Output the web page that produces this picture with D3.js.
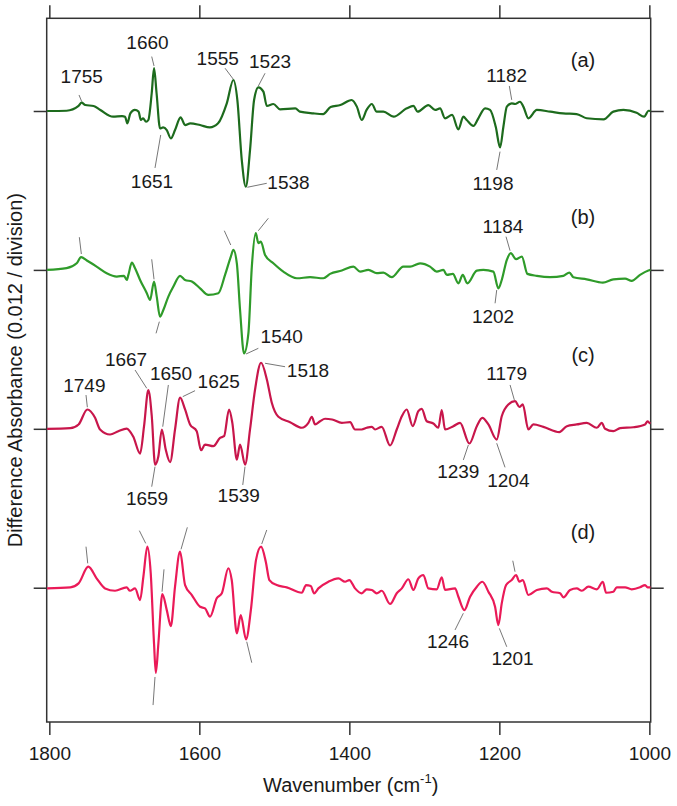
<!DOCTYPE html>
<html>
<head>
<meta charset="utf-8">
<script src="https://cdn.jsdelivr.net/npm/d3@7"></script>
<style>
    body { margin: 0; background: #fff; }
    svg text { font-family: "Liberation Sans", Arial, sans-serif; fill: #1a1a1a; }
</style>
</head>
<body>
<div id="chart"></div>
<script>
// x ticks (cm-1) and baselines of the 4 traces (in 0.001 absorbance, one division = 12)
var wavenumberTicks = [1800, 1600, 1400, 1200, 1000];
var traceNames = ['(a)', '(b)', '(c)', '(d)'];
var traceOffsets = [36, 24, 12, 0];
var traceColors = ['#1d6b1d', '#2f9b2a', '#c8164b', '#ea1a58'];

// [wavenumber, difference absorbance x 1000]
var traceA = [[1803,0],[1777,0.02],[1761,0.38],[1757,0.63],[1752,0.45],[1741,0.38],[1732,0.08],[1715,-0.43],[1703,-0.38],[1699,-0.43],[1696,-0.93],[1692,-0.18],[1686,0.08],[1681,-0.05],[1678,-0.68],[1675,-0.55],[1671,-0.81],[1668,-0.68],[1663.5,1.34],[1660.4,3.23],[1657,1.34],[1652.4,-1.31],[1648.3,-1.24],[1643.4,-1.44],[1638,-2.07],[1632.4,-1.44],[1625,-0.48],[1619,-1.06],[1612,-0.93],[1599,-1.06],[1586,-1.24],[1575,-0.93],[1563.4,0.58],[1554.6,2.34],[1549.3,0.83],[1543.4,-3.71],[1538,-5.72],[1532.4,-2.95],[1527,0.83],[1521.3,1.79],[1514.6,1.46],[1510,0.38],[1501.3,0.53],[1492.4,0.13],[1472,0.2],[1466,-0.05],[1448,-0.18],[1435,-0.23],[1425,0.3],[1412,0.45],[1397,0.83],[1390,0.33],[1383.5,-0.68],[1377,0.08],[1370,0.53],[1363.5,-0.05],[1354.6,-0.05],[1341,-0.43],[1323.5,0.2],[1314.6,0.38],[1309,-0.05],[1294.6,0.45],[1285.7,0.08],[1279,0.2],[1272.4,-0.55],[1263,-0.3],[1254.6,-1.39],[1248,-0.43],[1243.5,-0.68],[1234.6,-1.13],[1228,-0.55],[1219,0.2],[1212.4,0.08],[1204.8,-1.19],[1199,-2.75],[1194.6,-1.19],[1190,0.33],[1183.5,0.58],[1179,0.53],[1172.4,0.7],[1168,0.33],[1161.3,-0.55],[1150,0.08],[1132,-0.05],[1115,-0.18],[1097,-0.23],[1083.5,-0.55],[1061,-0.63],[1048,-0.05],[1034.6,0.08],[1017,-0.13],[1007,-0.43],[1001,0.02],[998.5,0]];

var traceB = [[1803,0],[1777,0.13],[1763.5,0.5],[1757.7,0.96],[1750,0.71],[1737,0.25],[1723.5,-0.25],[1710,-0.5],[1700.4,-0.45],[1696.8,-0.76],[1694.6,-0.38],[1690,0.55],[1685.7,0.13],[1679,-0.76],[1670,-1.76],[1665.7,-2.27],[1660.4,-0.88],[1656.8,-2.02],[1652.4,-3.53],[1648,-3.03],[1641.3,-2.02],[1634.6,-1.26],[1625.7,-0.45],[1619,-0.76],[1610,-0.88],[1599,-1.39],[1588,-1.89],[1574.6,-1.76],[1565.7,-0.38],[1558,1.01],[1554.6,1.51],[1550,0.5],[1545.7,-3.03],[1540.4,-6.3],[1534.6,-4.79],[1530,0.25],[1524.8,2.78],[1521.3,2.02],[1518,2.14],[1512.4,1.13],[1501.3,0.5],[1488,-0.13],[1470,-0.63],[1452.4,-0.55],[1434.6,-0.63],[1425.7,-0.3],[1410,-0.05],[1394.6,0.25],[1385.7,-0.13],[1374.6,0],[1363.5,-0.25],[1354.6,-0.2],[1343.5,-0.55],[1328,0.25],[1319,0.25],[1305.7,0.5],[1292.4,0.25],[1283.5,-0.13],[1274.6,0],[1270,-0.38],[1262,-0.3],[1254.6,-1.01],[1248.8,-0.38],[1242.7,-1.01],[1230,-0.05],[1221.3,0],[1208,-0.13],[1201.3,-1.39],[1196.8,-0.76],[1190,0.76],[1184.8,1.26],[1177.7,0.81],[1170,1.01],[1162.6,-0.3],[1150,-0.45],[1132.4,-0.55],[1114.6,-0.45],[1106.6,-0.2],[1101.3,-0.55],[1083.5,-0.71],[1062,-0.96],[1048,-0.71],[1032.4,-0.66],[1023.5,-0.83],[1012.4,-0.38],[1001.3,-0.05],[998.5,0]];

var traceC = [[1803,0],[1772,0.05],[1761,0.33],[1749.3,1.46],[1739,0.83],[1732.4,-0.05],[1719,-0.43],[1708,-0.18],[1697,0.02],[1688,-0.6],[1679,-1.87],[1673.7,0.2],[1668,2.92],[1663.4,0.95],[1659,-2.7],[1654.6,-2.07],[1650,-0.05],[1644.8,-1.57],[1639,-2.52],[1632.4,-0.05],[1625.7,2.35],[1619,1.46],[1612.4,0.33],[1603.5,-0.18],[1597.7,-1.62],[1592.4,-1.19],[1581.3,-1.31],[1572.4,-0.68],[1567,-0.56],[1560.4,1.46],[1556,0.45],[1550,-2.32],[1545.7,-1.19],[1539,-2.7],[1532.4,-0.05],[1525.7,2.97],[1517.7,4.99],[1510,3.73],[1503.4,1.97],[1494.6,0.91],[1479,0.5],[1463.4,0.08],[1454.6,0.45],[1450,0.91],[1445.7,0.33],[1439,0.57],[1432.4,0.76],[1423,0.7],[1410,0.45],[1399,0.5],[1392.4,-0.05],[1383.5,-0.05],[1376.8,0.08],[1370,0.15],[1365.7,-0.05],[1356.8,0.15],[1345.7,-1.26],[1336.8,-0.05],[1330,0.95],[1323.5,1.46],[1315.5,0.2],[1308,1.33],[1303.5,1.51],[1296.8,0.57],[1288,0.4],[1281.3,0.08],[1276.8,1.41],[1272.4,-0.05],[1261.3,0.2],[1252.4,0.45],[1240,-1.11],[1230,0.2],[1222.7,0.83],[1214.6,0.33],[1203.5,-0.81],[1196.8,0.95],[1188,1.84],[1179,2.09],[1173.3,1.66],[1168.8,1.84],[1161.3,-0.05],[1154.6,0.33],[1141.3,0.15],[1120,-0.25],[1110,0.2],[1096.8,0.33],[1083.5,0.45],[1070,0.08],[1063.5,0.45],[1059,0],[1048,-0.18],[1039,0.05],[1021.3,0.12],[1005.7,0.33],[1002.4,0.57],[1000,0.45],[998.5,0.4]];

var traceD = [[1803,-0.05],[1772,0.03],[1761,0.33],[1748,1.59],[1737,0.71],[1725.7,-0.05],[1712.4,-0.23],[1697,0.03],[1692.4,-0.23],[1685.7,-0.05],[1679,-0.93],[1674.6,0.83],[1669.3,3.1],[1664.8,1.09],[1660.4,-4.21],[1658,-6.43],[1654.6,-4.21],[1649.3,-0.48],[1643.4,-1.69],[1638,-2.9],[1632.4,0.08],[1625.7,2.72],[1619,0.2],[1610,-0.55],[1599,-1.44],[1592.4,-1.56],[1585.7,-2.19],[1576.8,-0.8],[1570,-0.42],[1561.3,1.47],[1556.8,0.58],[1550,-3.45],[1544.8,-2.07],[1537.7,-3.9],[1531.3,-1.69],[1524.4,2.1],[1517.7,3.1],[1511.4,1.97],[1506.6,0.58],[1496.8,0.2],[1483.5,0.03],[1463.4,-0.38],[1457.7,0.2],[1451.4,0.13],[1447,-0.42],[1441.3,-0.05],[1428,0.45],[1414.6,0.71],[1405.7,0.45],[1400,0.58],[1392.4,-0.05],[1383.5,-0.42],[1376.8,-0.12],[1370,-0.17],[1363.5,-0.42],[1356.8,-0.23],[1345.7,-1.23],[1336.8,-0.42],[1330,-0.05],[1321.3,0.64],[1314.6,-0.17],[1308,0.71],[1301.3,0.96],[1294.6,-0.05],[1283.5,-0.12],[1276.8,0.79],[1272.4,-0.17],[1259,-0.05],[1254.6,-0.68],[1246.6,-1.69],[1239,-0.68],[1230,0.08],[1222.7,0.45],[1214.6,-0.3],[1205.7,-1.44],[1201.3,-2.82],[1196.8,-1.18],[1191,0.2],[1183.5,0.58],[1177.7,0.96],[1173.3,0.45],[1168.8,0.58],[1161.3,-0.55],[1150,-0.17],[1136.8,-0.05],[1130,-0.3],[1119,-0.42],[1114.6,-0.73],[1105.7,-0.17],[1096.8,-0.05],[1090,-0.23],[1081.3,0.08],[1070,-0.12],[1062,0.45],[1057.7,-0.38],[1048,-0.3],[1043.5,0.03],[1032.4,0.03],[1023.5,-0.12],[1012.4,0.03],[1005.7,0.2],[1002.4,0.03],[998.5,0.03]];

var traces = [traceA, traceB, traceC, traceD];

// peak labels: [text, text wn, text y, leader wn1, y1, wn2, y2] (y in 0.001 abs, incl. offset)
var peakLabels = [
    ['1755', 1756.8, 38.12, 1760.4, 37.21, 1756.8, 36.71],
    ['1660', 1669.1, 40.69, 1663.5, 40.11, 1660.4, 39.40],
    ['1651', 1663.1, 30.19, 1659.1, 31.70, 1651.5, 34.19],
    ['1555', 1575.5, 39.48, 1565.7, 39.23, 1554.7, 38.40],
    ['1523', 1505.7, 39.25, 1512.4, 38.85, 1521.3, 37.89],
    ['1538', 1481.1, 30.11, 1510.1, 30.54, 1536.0, 30.24],
    ['1182', 1190.1, 38.22, 1186.7, 37.89, 1183.5, 36.84],
    ['1198', 1208.4, 30.04, 1199.1, 32.93, 1203.5, 31.55],
    ['', 0, 0, 1760.0, 26.47, 1757.3, 25.20],
    ['', 0, 0, 1663.5, 24.80, 1660.4, 23.29],
    ['', 0, 0, 1653.3, 20.09, 1657.7, 19.21],
    ['', 0, 0, 1566.7, 26.96, 1558.1, 25.88],
    ['', 0, 0, 1508.0, 27.90, 1521.3, 26.96],
    ['1540', 1490.1, 18.48, 1521.3, 18.08, 1537.7, 17.65],
    ['1184', 1195.1, 26.79, 1191.1, 26.51, 1185.7, 25.45],
    ['1202', 1208.4, 19.99, 1203.5, 22.48, 1205.7, 21.48],
    ['1518', 1455.1, 15.94, 1485.7, 16.69, 1512.4, 16.95],
    ['1749', 1753.3, 14.80, 1751.1, 14.55, 1749.3, 13.63],
    ['1667', 1697.7, 16.74, 1685.7, 16.44, 1670.1, 15.06],
    ['1650', 1637.7, 15.69, 1641.3, 15.31, 1648.8, 12.16],
    ['1625', 1574.1, 15.08, 1605.7, 14.88, 1622.1, 14.43],
    ['1659', 1669.7, 6.25, 1659.1, 9.14, 1663.5, 7.63],
    ['1539', 1547.5, 6.50, 1539.1, 9.14, 1542.1, 7.76],
    ['1179', 1190.1, 15.69, 1185.7, 15.31, 1180.0, 14.18],
    ['1239', 1254.7, 8.29, 1241.3, 10.78, 1248.0, 9.65],
    ['1204', 1188.0, 7.63, 1203.5, 10.91, 1192.4, 9.09],
    ['', 0, 0, 1751.1, 3.10, 1748.8, 1.84],
    ['', 0, 0, 1680.0, 4.31, 1671.5, 3.35],
    ['', 0, 0, 1647.1, 1.39, 1649.7, -0.30],
    ['', 0, 0, 1616.0, 4.56, 1624.4, 2.90],
    ['', 0, 0, 1659.1, -6.74, 1661.7, -8.86],
    ['', 0, 0, 1510.1, 4.36, 1516.8, 3.30],
    ['', 0, 0, 1536.8, -4.08, 1530.1, -5.66],
    ['1246', 1268.4, -4.55, 1248.0, -1.93, 1259.1, -3.19],
    ['1201', 1182.4, -5.84, 1200.0, -3.07, 1190.1, -4.46],
    ['', 0, 0, 1182.1, 2.04, 1179.1, 1.21]
];
var panelLabelPos = [[1088.4, 39.29], [1088.4, 27.47], [1088.4, 17.01], [1088.4, 3.68]];

var width = 677, height = 806;
var box = {left: 46.7, right: 650.7, top: 18.3, bottom: 722};

var svg = d3.select('#chart').append('svg')
    .attr('width', width)
    .attr('height', height);

var x = d3.scaleLinear().domain([1803.5, 998.2]).range([box.left, box.right]);
var y = d3.scaleLinear().domain([-10.14, 43.0]).range([box.bottom, box.top]);

function styleAxis(g){
    g.select('.domain').remove();
    g.selectAll('.tick line').attr('stroke', '#333').attr('stroke-width', 1.5);
}

svg.append('g')
    .attr('transform', 'translate(0,' + box.bottom + ')')
    .call(d3.axisBottom(x).tickValues(wavenumberTicks).tickSize(13).tickPadding(11.5)
        .tickFormat(d3.format('d')))
    .call(styleAxis)
    .selectAll('text')
        .attr('font-size', '19px')
        .attr('fill', '#1a1a1a')
        .style('font-family', '"Liberation Sans", Arial, sans-serif');

svg.append('g')
    .attr('transform', 'translate(0,' + box.top + ')')
    .call(d3.axisTop(x).tickValues(wavenumberTicks).tickSize(13).tickFormat(''))
    .call(styleAxis);

svg.append('g')
    .attr('transform', 'translate(' + box.left + ',0)')
    .call(d3.axisLeft(y).tickValues(traceOffsets).tickSize(13).tickFormat(''))
    .call(styleAxis);

svg.append('g')
    .attr('transform', 'translate(' + box.right + ',0)')
    .call(d3.axisRight(y).tickValues(traceOffsets).tickSize(13).tickFormat(''))
    .call(styleAxis);

svg.append('rect')
    .attr('x', box.left)
    .attr('y', box.top)
    .attr('width', box.right - box.left)
    .attr('height', box.bottom - box.top)
    .attr('fill', 'none')
    .attr('stroke', '#333')
    .attr('stroke-width', 1.5);

// spectra
traces.forEach(function(trace, i){
    var line = d3.line()
        .x(function(d){ return x(d[0]); })
        .y(function(d){ return y(d[1] + traceOffsets[i]); })
        .curve(d3.curveMonotoneX);
    svg.append('path')
        .datum(trace)
        .attr('d', line)
        .attr('fill', 'none')
        .attr('stroke', traceColors[i])
        .attr('stroke-width', 2.2)
        .attr('stroke-linejoin', 'round');
});

// leader lines + peak numbers
var ann = svg.append('g');
ann.selectAll('line').data(peakLabels)
    .enter()
        .append('line')
        .attr('x1', function(d){ return x(d[3]); })
        .attr('y1', function(d){ return y(d[4]); })
        .attr('x2', function(d){ return x(d[5]); })
        .attr('y2', function(d){ return y(d[6]); })
        .attr('stroke', '#777')
        .attr('stroke-width', 1);

ann.selectAll('text').data(peakLabels.filter(function(d){ return d[0] != ''; }))
    .enter()
        .append('text')
        .attr('x', function(d){ return x(d[1]); })
        .attr('y', function(d){ return y(d[2]); })
        .attr('text-anchor', 'middle')
        .attr('font-size', '19px')
        .text(function(d){ return d[0]; });

svg.selectAll('.panel-label').data(traceNames)
    .enter()
        .append('text')
        .attr('class', 'panel-label')
        .attr('x', function(d, i){ return x(panelLabelPos[i][0]); })
        .attr('y', function(d, i){ return y(panelLabelPos[i][1]); })
        .attr('text-anchor', 'middle')
        .attr('font-size', '20px')
        .text(function(d){ return d; });

// axis titles
var xTitle = svg.append('text')
    .attr('x', (box.left + box.right) / 2 + 2)
    .attr('y', 792)
    .attr('text-anchor', 'middle')
    .attr('font-size', '20px');
xTitle.append('tspan').text('Wavenumber (cm');
xTitle.append('tspan').attr('dy', -9).attr('font-size', '13px').text('-1');
xTitle.append('tspan').attr('dy', 9).text(')');

svg.append('text')
    .attr('transform', 'translate(21.5,' + ((box.top + box.bottom) / 2) + ') rotate(-90)')
    .attr('text-anchor', 'middle')
    .attr('font-size', '20px')
    .text('Difference Absorbance (0.012 / division)');
</script>
</body>
</html>
